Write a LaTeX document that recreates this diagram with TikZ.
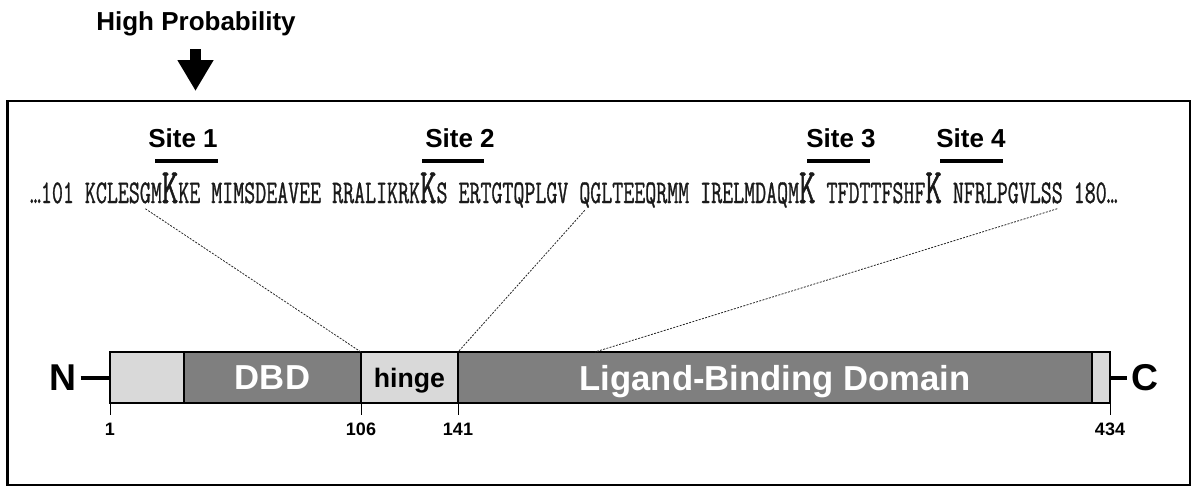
\documentclass[tikz,border=0pt]{standalone}
\usepackage{fontspec}
\setsansfont{Liberation Sans}
\newfontfamily\seqfont{Latin Modern Mono}[FakeBold=1.2]
\usetikzlibrary{positioning}
\usetikzlibrary{arrows.meta}
\definecolor{lightgrey}{HTML}{D9D9D9}
\definecolor{darkgrey}{HTML}{7F7F7F}
\definecolor{seqgrey}{HTML}{1A1A1A}
\newcommand{\px}{0.75pt}
\newcommand{\seqtxt}[1]{\scalebox{1}[1.55]{\fontsize{16}{16}\selectfont\seqfont #1}}
\newcommand{\bigK}{\scalebox{1}[1.55]{\fontsize{24}{24}\selectfont\seqfont K}}

\begin{document}
\begin{tikzpicture}[x=0.75pt, y=-0.75pt,
    lab/.style={font={\sffamily\bfseries\fontsize{19.5}{20}\selectfont}, inner sep=0},
    seq/.style={anchor=base west, inner sep=0, outer sep=0, text=seqgrey},
    seg/.style={draw, line width=2.2pt, minimum height=51*\px, inner sep=0, outer sep=0, text depth=0pt},
    domlab/.style={font={\sffamily\bfseries\fontsize{26}{26}\selectfont}, text=white},
    endlab/.style={font={\sffamily\bfseries\fontsize{28}{28}\selectfont}, inner sep=3pt},
    ticklab/.style={font={\sffamily\bfseries\fontsize{13.5}{14}\selectfont}, inner sep=0},
    sitebar/.style={line width=2.6pt},
    dotline/.style={line width=0.6pt, dash pattern=on 1.5pt off 1pt, black!85},
    stub/.style={line width=3pt}]
        \useasboundingbox (0,0) rectangle (1192,487);
        %%%COMPONENTS%%%
        \draw[line width=2.1pt] (7.5,101) rectangle (1190,485);
        \node[lab, anchor=base] (hp) at (196,30) {High Probability};
        \coordinate (tail) at (195.5,49);
        \coordinate (tip) at (195.5,91);
        \draw[line width=8.25pt, -{Triangle[width=25.5pt, length=23.25pt]}] (tail) -- (tip);
        %sequence
        \node[seq] (s0) at (30,203) {\seqtxt{…101\ }};
        \node[seq] (s1) at (s0.base east) {\seqtxt{KCLES}};
        \node[seq] (g106) at (s1.base east) {\seqtxt{G}};
        \node[seq] (s2) at (g106.base east) {\seqtxt{M}};
        \node[seq] (k1) at (s2.base east) {\bigK};
        \node[seq] (s3) at (k1.base east) {\seqtxt{KE MIMSDEAVEE RRALIKRK}};
        \node[seq] (k2) at (s3.base east) {\bigK};
        \node[seq] (s4) at (k2.base east) {\seqtxt{S ERTGTQPLGV\ }};
        \node[seq] (q141) at (s4.base east) {\seqtxt{Q}};
        \node[seq] (s5) at (q141.base east) {\seqtxt{GLTEEQRMM IRELMDAQM}};
        \node[seq] (k3) at (s5.base east) {\bigK};
        \node[seq] (s6) at (k3.base east) {\seqtxt{\ TFDTTFSHF}};
        \node[seq] (k4) at (s6.base east) {\bigK};
        \node[seq] (s7) at (k4.base east) {\seqtxt{\ NFRLPGVLS}};
        \node[seq] (s180) at (s7.base east) {\seqtxt{S}};
        \node[seq] (s8) at (s180.base east) {\seqtxt{\ 180…}};
        %sites
        \node[lab] (site1) at (183,138) {Site 1};
        \node[lab] (site2) at (460,138) {Site 2};
        \node[lab] (site3) at (841,138) {Site 3};
        \node[lab] (site4) at (971,138) {Site 4};
        \draw[sitebar] (155,161) -- (218,161);
        \draw[sitebar] (422,161) -- (484,161);
        \draw[sitebar] (807,161) -- (870,161);
        \draw[sitebar] (940,161) -- (1003,161);
        %next
        \node[seg, fill=lightgrey, minimum width=74*\px] (end1) at (147,377.5) {};
        \node[seg, fill=darkgrey, minimum width=177*\px, right=0pt of end1, domlab] (dbd) {DBD};
        \node[seg, fill=lightgrey, minimum width=97*\px, right=0pt of dbd,
            font={\sffamily\bfseries\fontsize{20}{20}\selectfont}] (hinge) {hinge};
        \node[seg, fill=darkgrey, minimum width=634*\px, right=0pt of hinge, domlab] (lbd) {Ligand-Binding Domain};
        \node[seg, fill=lightgrey, minimum width=18*\px, right=0pt of lbd] (end2) {};
        \node[endlab, left=22pt of end1] (nterm) {N};
        \node[endlab, right=13pt of end2] (cterm) {C};
        \draw[stub] (nterm) -- (end1);
        \draw[stub] (end2) -- (cterm);
        %points
        \coordinate (p180) at (595,352);
        \draw[dotline] ([yshift=-4pt]g106.south) -- (dbd.north east);
        \draw[dotline] ([yshift=-2pt]q141.south) -- (hinge.north east);
        \draw[dotline] ([yshift=-4pt]s180.south) -- (p180);
        \foreach \pos/\num in {end1.south west/1, dbd.south east/106, hinge.south east/141, end2.south east/434}{
            \draw[line width=0.6pt] (\pos) -- ++(0,12) node[ticklab, below=6pt] (t\num) {\num};
        }
\end{tikzpicture}
\end{document}
